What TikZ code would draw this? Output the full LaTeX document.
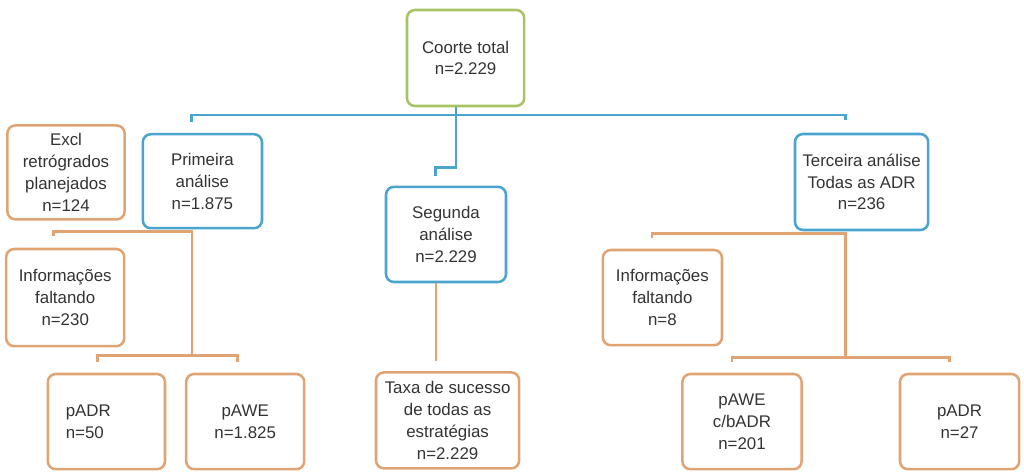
\documentclass[tikz,border=0pt]{standalone}
\usepackage{fontspec}
\setmainfont{Liberation Sans}
\definecolor{boxorange}{HTML}{E0A474}
\definecolor{boxblue}{HTML}{4AA5CE}
\definecolor{boxgreen}{HTML}{A6C466}
\definecolor{boxtext}{HTML}{333333}
\begin{document}
\begin{tikzpicture}[
    box/.style={draw=boxorange,line width=1.8pt,rounded corners=0.2cm,align=center,
        text=boxtext,font=\fontsize{12}{15.5}\selectfont,minimum height=2.38cm,inner sep=2pt},
    bluebox/.style={box,draw=boxblue},
    greenbox/.style={box,draw=boxgreen},
    blueline/.style={draw=boxblue,line width=2.1pt},
    orangeline/.style={draw=boxorange,line width=2.1pt}]
            \useasboundingbox (0,0) rectangle (25.6,-11.85);
            % topo
            \node (coorte) at (11.64,-1.45) [greenbox,minimum width=2.93cm,minimum height=2.4cm] {Coorte total\\n=2.229};
            % analises
            \node (primeira) at (5.06,-4.53) [bluebox,minimum width=2.98cm,minimum height=2.35cm] {Primeira\\análise\\n=1.875};
            \node (segunda) at (11.15,-5.86) [bluebox,minimum width=3cm] {Segunda\\análise\\n=2.229};
            \node (terceira) at (21.54,-4.55) [bluebox,minimum width=3.33cm,minimum height=2.4cm] {Terceira análise\\Todas as ADR\\n=236};
            % primeira analise
            \node (excl) at (1.65,-4.31) [box,minimum width=2.93cm,minimum height=2.35cm] {Excl\\retrógrados\\planejados\\n=124};
            \node (info1) at (1.63,-7.44) [box,minimum width=2.95cm,minimum height=2.43cm] {Informações\\faltando\\n=230};
            \node (padr1) at (2.66,-10.54) [box,align=left,text width=2.03cm,inner xsep=0.45cm] {pADR\\n=50};
            \node (pawe1) at (6.13,-10.54) [box,minimum width=2.95cm] {pAWE\\n=1.825};
            % segunda analise
            \node (taxa) at (11.19,-10.51) [box,minimum width=3.58cm,minimum height=2.4cm] {Taxa de sucesso\\de todas as\\estratégias\\n=2.229};
            % terceira analise
            \node (info2) at (16.56,-7.44) [box,minimum width=2.98cm] {Informações\\faltando\\n=8};
            \node (pawe2) at (18.55,-10.54) [box,minimum width=2.98cm] {pAWE\\c/bADR\\n=201};
            \node (padr2) at (23.99,-10.54) [box,minimum width=2.98cm] {pADR\\n=27};
            % linhas azuis
            \coordinate (bus) at (11.4,-2.875);
            \coordinate (top1) at (4.78,-3.05);
            \coordinate (top2) at (10.88,-4.4);
            \coordinate (top3) at (21.13,-3.0);
            \draw[blueline] (top1) |- (bus) -| (top3);
            \draw[blueline] (coorte.south -| bus) -- (bus) -- ++(0,-1.305) -| (top2);
            % linhas laranja
            \coordinate (e1) at (1.33,-5.9);
            \coordinate (k1) at (4.8,-5.78);
            \coordinate (j1) at (4.8,-8.88);
            \coordinate (a1) at (2.43,-9.05);
            \coordinate (a2) at (5.93,-9.05);
            \draw[orangeline] (e1) |- (k1) -- (j1);
            \draw[orangeline] (a1) |- (j1) -| (a2);
            \coordinate (t1) at (10.9,-9.03);
            \draw[orangeline] (segunda.south -| t1) -- (t1);
            \coordinate (e2) at (16.3,-5.95);
            \coordinate (k2) at (21.13,-5.83);
            \coordinate (j2) at (21.13,-8.93);
            \coordinate (a3) at (18.3,-9.05);
            \coordinate (a4) at (23.73,-9.05);
            \draw[orangeline] (e2) |- (k2) -- (j2);
            \draw[orangeline] (a3) |- (j2) -| (a4);
        \end{tikzpicture}
\end{document}
